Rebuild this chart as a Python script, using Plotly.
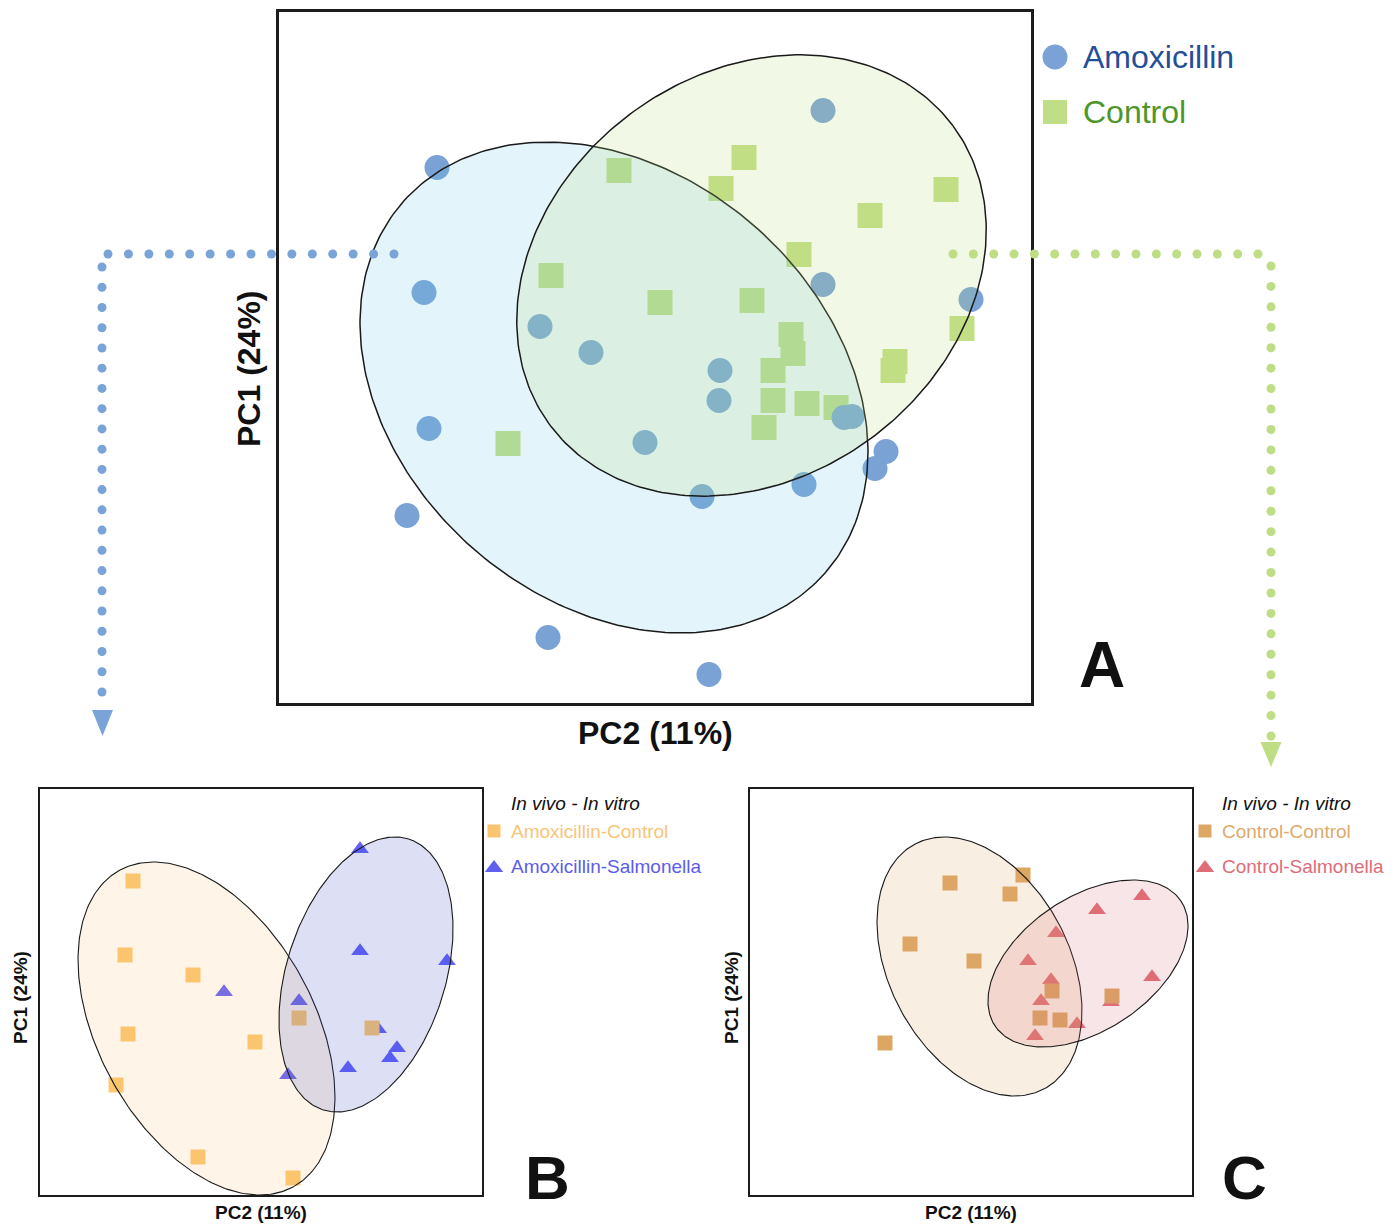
import numpy as np
import plotly.graph_objects as go

FIG_W, FIG_H = 1398, 1224
FONT = "Liberation Sans, Arial, Helvetica, sans-serif"

# ---------------- Panel A: Amoxicillin vs Control (PC2 on x, PC1 on y) ----------------
amox_pc2 = [-2.18, 1.68, -2.31, 1.68, 3.16, -1.15, -0.64, 0.65, 0.64, -2.26,
            -0.10, 1.89, 1.97, 2.31, 2.20, 1.49, 0.47, -2.48, -1.07, 0.54]
amox_pc1 = [1.90, 2.47, 0.65, 0.73, 0.58, 0.31, 0.05, -0.13, -0.43, -0.71,
            -0.85, -0.60, -0.59, -0.94, -1.11, -1.27, -1.39, -1.58, -2.80, -3.17]

ctrl_pc2 = [-0.36, 0.89, 0.66, 2.91, 2.15, 1.44, -1.04, 0.05, 0.97, 3.07,
            1.36, 1.38, 2.40, 2.38, 1.18, 1.18, 1.52, 1.81, 1.09, -1.47]
ctrl_pc1 = [1.87, 2.00, 1.69, 1.68, 1.42, 1.03, 0.82, 0.55, 0.57, 0.29,
            0.23, 0.04, -0.04, -0.13, -0.13, -0.43, -0.46, -0.50, -0.70, -0.86]

# confidence ellipses: (centre x, centre y, semi-major, semi-minor, angle in degrees)
amox_ellipse = (-0.41, -0.30, 2.81, 2.14, -41.3)
ctrl_ellipse = (0.965, 0.82, 2.51, 2.02, 36.6)

# ---------------- Panel B: Amoxicillin in vivo, in vitro split ----------------
amox_ctrl_pc2 = [-1.28, -1.36, -0.68, -1.33, -0.06, -1.45, -0.63, 0.32, 0.38, 1.11]
amox_ctrl_pc1 = [1.11, 0.37, 0.17, -0.42, -0.50, -0.93, -1.65, -1.86, -0.26, -0.36]

amox_salm_pc2 = [0.99, 0.99, 1.86, -0.37, 0.38, 1.17, 1.36, 1.29, 0.87, 0.27]
amox_salm_pc1 = [1.43, 0.41, 0.31, 0.00, -0.09, -0.37, -0.56, -0.66, -0.76, -0.83]

amox_ctrl_ellipse = (-0.545, -0.365, 1.805, 1.079, 118.8)
amox_salm_ellipse = (1.05, 0.175, 1.42, 0.795, 72.5)

# ---------------- Panel C: Control in vivo, in vitro split ----------------
ctrl_ctrl_pc2 = [-0.21, 0.52, 0.39, -0.61, 0.03, 0.81, 1.41, 0.69, 0.89, -0.86]
ctrl_ctrl_pc1 = [1.09, 1.17, 0.98, 0.48, 0.31, 0.01, -0.04, -0.26, -0.28, -0.51]

ctrl_salm_pc2 = [1.71, 1.26, 0.85, 0.57, 0.80, 1.81, 0.70, 1.40, 1.06, 0.64]
ctrl_salm_pc1 = [0.96, 0.82, 0.59, 0.31, 0.12, 0.15, -0.09, -0.10, -0.32, -0.44]

ctrl_ctrl_ellipse = (0.085, 0.255, 1.384, 0.901, 117.7)
ctrl_salm_ellipse = (1.17, 0.285, 1.12, 0.666, 34.0)

# axis labels
x_title = "PC2 (11%)"
y_title = "PC1 (24%)"

# ---------------- layout geometry (pixel boxes of the three panels) ----------------
BOX_A = (279, 1031, 12, 703)
BOX_B = (40, 482, 789, 1195)
BOX_C = (750, 1192, 789, 1195)
PX_PER_UNIT = 100.0


def domain(box):
    x0, x1, y0, y1 = box
    return [x0 / FIG_W, x1 / FIG_W], [1 - y1 / FIG_H, 1 - y0 / FIG_H]


def axis_range(box):
    x0, x1, y0, y1 = box
    hw = (x1 - x0) / 2 / PX_PER_UNIT
    hh = (y1 - y0) / 2 / PX_PER_UNIT
    return [-hw, hw], [-hh, hh]


def ellipse_xy(params, n=300):
    cx, cy, a, b, ang = params
    t = np.linspace(0, 2 * np.pi, n)
    th = np.deg2rad(ang)
    x = cx + a * np.cos(t) * np.cos(th) - b * np.sin(t) * np.sin(th)
    y = cy + a * np.cos(t) * np.sin(th) + b * np.sin(t) * np.cos(th)
    return x, y


fig = go.Figure()


def add_points(x, y, xa, ya, symbol, size, color):
    fig.add_trace(go.Scatter(
        x=x, y=y, mode="markers", xaxis=xa, yaxis=ya, showlegend=False,
        hoverinfo="skip",
        marker=dict(symbol=symbol, size=size, color=color, line=dict(width=0)),
    ))


def add_ellipse(params, xa, ya, fill, lw=1.3):
    ex, ey = ellipse_xy(params)
    fig.add_trace(go.Scatter(
        x=ex, y=ey, mode="lines", xaxis=xa, yaxis=ya, showlegend=False,
        hoverinfo="skip", fill="toself", fillcolor=fill,
        line=dict(color="#1a1a1a", width=lw),
    ))


# Panel A
add_points(ctrl_pc2, ctrl_pc1, "x", "y", "square", 25, "rgb(195,223,134)")
add_points(amox_pc2, amox_pc1, "x", "y", "circle", 25, "rgb(122,162,213)")
add_ellipse(amox_ellipse, "x", "y", "rgba(100,200,235,0.18)", 1.5)
add_ellipse(ctrl_ellipse, "x", "y", "rgba(190,220,130,0.20)", 1.5)

# Panel B
add_points(amox_salm_pc2, amox_salm_pc1, "x2", "y2", "triangle-up", 15.5, "rgb(98,98,250)")
add_points(amox_ctrl_pc2, amox_ctrl_pc1, "x2", "y2", "square", 15, "rgb(252,200,115)")
add_ellipse(amox_ctrl_ellipse, "x2", "y2", "rgba(245,180,95,0.15)", 1.1)
add_ellipse(amox_salm_ellipse, "x2", "y2", "rgba(55,73,196,0.17)", 1.1)

# Panel C
add_points(ctrl_salm_pc2, ctrl_salm_pc1, "x3", "y3", "triangle-up", 15.5, "rgb(226,110,122)")
add_points(ctrl_ctrl_pc2, ctrl_ctrl_pc1, "x3", "y3", "square", 15, "rgb(220,166,99)")
add_ellipse(ctrl_ctrl_ellipse, "x3", "y3", "rgba(225,170,110,0.20)", 1.1)
add_ellipse(ctrl_salm_ellipse, "x3", "y3", "rgba(215,100,110,0.17)", 1.1)

# ---------------- overlay in page pixels: connectors and legend swatches ----------------
BLUE_DOT = "rgb(122,163,216)"
GREEN_DOT = "rgb(190,221,132)"


def dots(x, y, color):
    fig.add_trace(go.Scatter(
        x=x, y=y, mode="markers", xaxis="x4", yaxis="y4", showlegend=False,
        hoverinfo="skip", marker=dict(size=9, color=color, line=dict(width=0)),
    ))


# blue connector from panel A down to panel B
dots(np.linspace(394, 108, 15), np.full(15, 254.0), BLUE_DOT)
dots(np.full(22, 102.0), np.linspace(267, 692, 22), BLUE_DOT)
# green connector from panel A down to panel C
dots(np.linspace(953, 1258, 16), np.full(16, 254.0), GREEN_DOT)
dots(np.full(24, 1271.0), np.linspace(266, 736, 24), GREEN_DOT)

shapes = [
    dict(type="path", xref="x4", yref="y4", path="M 92,710 L 113,710 L 102.5,736 Z",
         fillcolor=BLUE_DOT, line=dict(width=0)),
    dict(type="path", xref="x4", yref="y4", path="M 1260.5,742 L 1281.5,742 L 1271,767 Z",
         fillcolor=GREEN_DOT, line=dict(width=0)),
]

# legend swatches
def swatch(x, y, symbol, size, color):
    fig.add_trace(go.Scatter(
        x=[x], y=[y], mode="markers", xaxis="x4", yaxis="y4", showlegend=False,
        hoverinfo="skip", marker=dict(symbol=symbol, size=size, color=color, line=dict(width=0)),
    ))


swatch(1055, 57, "circle", 25, "rgb(122,162,214)")
swatch(1055, 112, "square", 24, "rgb(192,222,136)")
swatch(494, 831, "square", 13, "rgb(251,197,112)")
swatch(494, 868, "triangle-up", 16, "rgb(96,96,240)")
swatch(1205, 831, "square", 13, "rgb(221,167,101)")
swatch(1205, 868, "triangle-up", 16, "rgb(224,108,120)")

# ---------------- text ----------------
def text(x, y, s, size, color="#111111", anchor="center", angle=0):
    return dict(x=x, y=y, xref="x4", yref="y4", text=s, showarrow=False,
                xanchor=anchor, yanchor="middle", textangle=angle,
                font=dict(family=FONT, size=size, color=color))


annotations = [
    # panel A
    text(655, 733, f"<b>{x_title}</b>", 32),
    text(249, 369, f"<b>{y_title}</b>", 32, angle=-90),
    text(1102, 665, "<b>A</b>", 64),
    text(1081, 57, "Amoxicillin", 32, "rgb(35,78,152)", "left"),
    text(1081, 112, "Control", 32, "rgb(78,150,42)", "left"),
    # panel B
    text(261, 1212, f"<b>{x_title}</b>", 19),
    text(20, 998, f"<b>{y_title}</b>", 19, angle=-90),
    text(547, 1177, "<b>B</b>", 62),
    text(509, 803, "<i>In vivo - In vitro</i>", 19, "#111111", "left"),
    text(509, 831, "Amoxicillin-Control", 19, "rgb(250,196,118)", "left"),
    text(509, 866, "Amoxicillin-Salmonella", 19, "rgb(92,92,236)", "left"),
    # panel C
    text(971, 1212, f"<b>{x_title}</b>", 19),
    text(731, 998, f"<b>{y_title}</b>", 19, angle=-90),
    text(1244, 1177, "<b>C</b>", 62),
    text(1220, 803, "<i>In vivo - In vitro</i>", 19, "#111111", "left"),
    text(1220, 831, "Control-Control", 19, "rgb(222,170,108)", "left"),
    text(1220, 866, "Control-Salmonella", 19, "rgb(222,108,120)", "left"),
]

# ---------------- axes ----------------
def panel_axes(box, lw):
    (dx, dy) = domain(box)
    (rx, ry) = axis_range(box)
    common = dict(showline=True, mirror=True, linecolor="#1c1c1c", linewidth=lw,
                  showgrid=False, zeroline=False, showticklabels=False, ticks="",
                  fixedrange=True)
    return dict(domain=dx, range=rx, **common), dict(domain=dy, range=ry, **common)


xa1, ya1 = panel_axes(BOX_A, 3)
xa2, ya2 = panel_axes(BOX_B, 2)
xa3, ya3 = panel_axes(BOX_C, 2)

fig.update_layout(
    width=FIG_W, height=FIG_H, autosize=False,
    margin=dict(l=0, r=0, t=0, b=0),
    paper_bgcolor="white", plot_bgcolor="rgba(0,0,0,0)",
    xaxis=dict(xa1, anchor="y"), yaxis=dict(ya1, anchor="x"),
    xaxis2=dict(xa2, anchor="y2"), yaxis2=dict(ya2, anchor="x2"),
    xaxis3=dict(xa3, anchor="y3"), yaxis3=dict(ya3, anchor="x3"),
    xaxis4=dict(domain=[0, 1], range=[0, FIG_W], visible=False, anchor="y4", fixedrange=True),
    yaxis4=dict(domain=[0, 1], range=[FIG_H, 0], visible=False, anchor="x4", fixedrange=True),
    shapes=shapes,
    annotations=annotations,
    showlegend=False,
)

fig.write_html("out.html")
